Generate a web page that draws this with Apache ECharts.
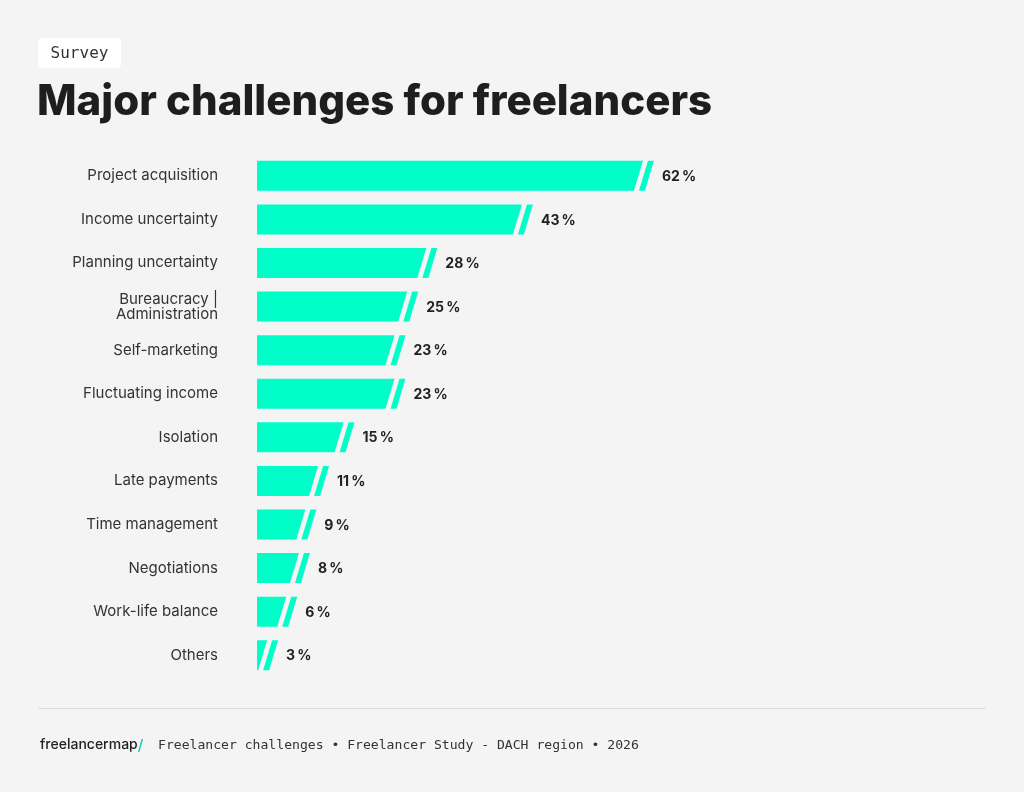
<!DOCTYPE html>
<html>
<head>
<meta charset="utf-8">
<script src="https://cdn.jsdelivr.net/npm/echarts@6/dist/echarts.min.js"></script>
<style>
    html, body { margin: 0; padding: 0; background: #f4f4f4; }
    #chart { width: 1024px; height: 792px; }
</style>
</head>
<body>
<div id="chart"></div>
<script>
// 分类与数值
const categories = [
    'Project acquisition',
    'Income uncertainty',
    'Planning uncertainty',
    'Bureaucracy |\nAdministration',
    'Self-marketing',
    'Fluctuating income',
    'Isolation',
    'Late payments',
    'Time management',
    'Negotiations',
    'Work-life balance',
    'Others'
];
const values = [62, 43, 28, 25, 23, 23, 15, 11, 9, 8, 6, 3];

const TEAL = '#00ffc8';

// 斜切的条形 + 一条细斜纹 + 百分比标签
function renderItem(params, api) {
    const v = api.value(0);
    const c = api.coord([v, api.value(1)]);
    const x0 = params.coordSys.x;
    const h = 30, slant = 9, gap = 5, w = 6;
    const top = c[1] - h / 2, bot = c[1] + h / 2;
    const tr = c[0] - 9;
    const br = Math.max(x0, tr - slant);
    return {
        type: 'group',
        children: [
            {
                type: 'polygon',
                shape: { points: [[x0, top], [tr, top], [br, bot], [x0, bot]] },
                style: { fill: TEAL }
            },
            {
                type: 'polygon',
                shape: {
                    points: [
                        [tr + gap, top], [tr + gap + w, top],
                        [tr - slant + gap + w, bot], [tr - slant + gap, bot]
                    ]
                },
                style: { fill: TEAL }
            },
            {
                type: 'text',
                x: tr + gap + w + 8,
                y: c[1] + 1,
                style: {
                    text: v + '\u2009%',
                    fill: '#222',
                    font: '700 14px Inter, sans-serif',
                    verticalAlign: 'middle'
                }
            }
        ]
    };
}

let chart = echarts.init(document.getElementById('chart'));

let option = {
    backgroundColor: '#f4f4f4',
    animation: false,
    grid: {
        left: 257,
        width: 637,
        top: 154,
        height: 523
    },
    xAxis: {
        type: 'value',
        min: 0,
        max: 100,
        show: false
    },
    yAxis: {
        type: 'category',
        data: categories,
        inverse: true,
        axisLine: { show: false },
        axisTick: { show: false },
        axisLabel: {
            margin: 39,
            color: '#333',
            fontFamily: 'Inter, sans-serif',
            fontSize: 15,
            lineHeight: 15,
            padding: [3, 0, 0, 0]
        }
    },
    series: [
        {
            type: 'custom',
            renderItem: renderItem,
            encode: { x: 0, y: 1 },
            data: values.map((v, i) => [v, i])
        }
    ],
    graphic: [
        {
            type: 'rect',
            shape: { x: 38, y: 38, width: 83, height: 30, r: 4 },
            style: { fill: '#ffffff' }
        },
        {
            type: 'text',
            x: 79.5,
            y: 54,
            style: {
                text: 'Survey',
                font: '16px "DejaVu Sans Mono", monospace',
                fill: '#333',
                align: 'center',
                verticalAlign: 'middle'
            }
        },
        {
            type: 'text',
            x: 37,
            y: 102,
            style: {
                text: 'Major challenges for freelancers',
                font: '800 42px Inter, sans-serif',
                fill: '#1e1e1e',
                verticalAlign: 'middle'
            }
        },
        {
            type: 'line',
            shape: { x1: 38, y1: 708.5, x2: 986, y2: 708.5 },
            style: { stroke: '#dcdcdc', lineWidth: 1 }
        },
        {
            type: 'text',
            x: 40,
            y: 745,
            style: {
                text: '{b|freelancermap}{s|/}',
                verticalAlign: 'middle',
                rich: {
                    b: { font: '500 14px Inter, sans-serif', fill: '#222' },
                    s: { font: '500 15px Inter, sans-serif', fill: '#00d9aa' }
                }
            }
        },
        {
            type: 'text',
            x: 158,
            y: 746,
            style: {
                text: 'Freelancer challenges \u2022 Freelancer Study - DACH region \u2022 2026',
                font: '13.1px "DejaVu Sans Mono", monospace',
                fill: '#333',
                verticalAlign: 'middle'
            }
        }
    ]
};

chart.setOption(option);

window.onresize = function () {
    chart.resize();
};
</script>
</body>
</html>
